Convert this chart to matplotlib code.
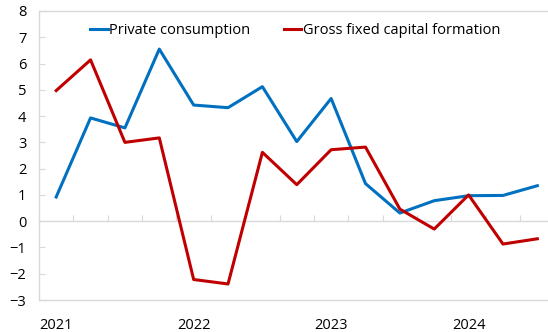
import matplotlib
matplotlib.use("Agg")
import matplotlib.pyplot as plt
import numpy as np

plt.rcParams['font.family'] = ['Open Sans', 'DejaVu Sans']

# quarterly growth, 2021Q1 - 2024Q3
quarters = list(range(15))
private_consumption = [0.92, 3.93, 3.55, 6.55, 4.42, 4.32, 5.12, 3.03, 4.67,
                       1.43, 0.31, 0.78, 0.97, 0.98, 1.35]
gross_fixed_capital = [4.97, 6.14, 3.00, 3.17, -2.22, -2.39, 2.62, 1.39, 2.72,
                       2.82, 0.46, -0.30, 1.00, -0.87, -0.67]
year_labels = ['2021', '2022', '2023', '2024']
year_pos = [0, 4, 8, 12]

blue = '#0070C0'
red = '#C00000'
grey = '#D9D9D9'
fs = 10.5

fig = plt.figure(figsize=(5.48, 3.32), dpi=100)
ax = fig.add_axes([39 / 548, 1 - 300 / 332, 1 - 39 / 548, (300 - 11) / 332])

ax.plot(quarters, private_consumption, color=blue, lw=2.2, label='Private consumption')
ax.plot(quarters, gross_fixed_capital, color=red, lw=2.2, label='Gross fixed capital formation')

ax.set_xlim(-0.5, 14.31)
ax.set_ylim(-3, 8)
ax.set_yticks(range(-3, 9))

for side in ['top', 'bottom', 'left']:
    ax.spines[side].set_color(grey)
    ax.spines[side].set_linewidth(1.0)
ax.spines['right'].set_visible(False)

ax.tick_params(axis='y', direction='in', length=4, color=grey, labelsize=fs, pad=9)
ax.set_xticks(year_pos)
ax.set_xticklabels(year_labels)
ax.tick_params(axis='x', length=0, labelsize=fs, pad=13)

# zero line carries the quarter ticks
zero_axis = ax.secondary_xaxis(3 / 11)
zero_axis.set_xticks(np.arange(0.5, 14.5, 1))
zero_axis.tick_params(direction='in', length=4, color=grey, labelbottom=False, labeltop=False)
zero_axis.spines['bottom'].set_color(grey)
zero_axis.spines['bottom'].set_linewidth(1.0)

ax.legend(ncol=2, frameon=False, fontsize=fs, loc='center left',
          bbox_to_anchor=(90 / 548, 1 - 31 / 332), bbox_transform=fig.transFigure,
          handlelength=1.2, handletextpad=0.1, columnspacing=2.3,
          borderpad=0, borderaxespad=0)

fig.savefig('out.png', dpi=100)
